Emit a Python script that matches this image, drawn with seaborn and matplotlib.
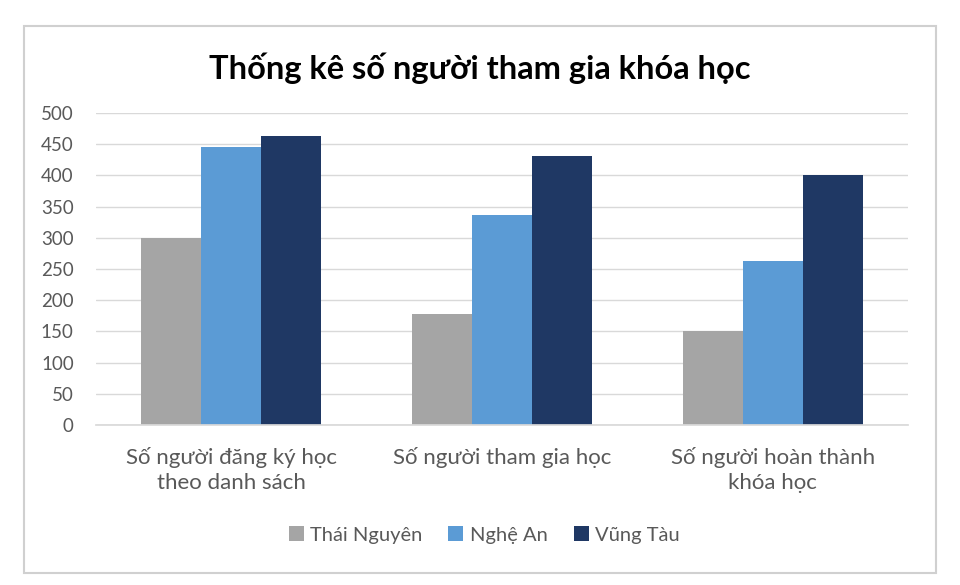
import pandas as pd
import matplotlib
matplotlib.use('Agg')
import matplotlib.pyplot as plt
import seaborn as sns
from matplotlib.patches import Rectangle

# 数据
categories = ["Số người đăng ký học\ntheo danh sách", "Số người tham gia học",
              "Số người hoàn thành\nkhóa học"]
series_names = ["Thái Nguyên", "Nghệ An", "Vũng Tàu"]
thai_nguyen = [300, 178, 150]
nghe_an = [445, 337, 263]
vung_tau = [463, 431, 400]
yticks = list(range(0, 501, 50))
colors = ["#a5a5a5", "#5b9bd5", "#1f3864"]

df = pd.DataFrame({
    "cat": categories * 3,
    "region": [s for s in series_names for _ in categories],
    "value": thai_nguyen + nghe_an + vung_tau,
})

sns.set_theme(style="white")
plt.rcParams['font.family'] = ['Lato', 'DejaVu Sans']

fig = plt.figure(figsize=(9.6, 5.85), dpi=100)
ax = fig.add_axes([96 / 960, 1 - 425 / 585, 812 / 960, 312 / 585])

sns.barplot(data=df, x="cat", y="value", hue="region", palette=colors,
            width=0.665, gap=0, saturation=1, linewidth=0, ax=ax, legend=True)

ax.set_ylim(0, 500)
ax.set_yticks(yticks)
ax.set_xlim(-0.5, 2.5)
ax.yaxis.grid(True, color="#d9d9d9", linewidth=1)
ax.set_axisbelow(True)
for s in ["top", "right", "left"]:
    ax.spines[s].set_visible(False)
ax.spines["bottom"].set_color("#d9d9d9")
ax.tick_params(axis="y", length=0, labelsize=13.5, labelcolor="#595959", pad=16)
ax.tick_params(axis="x", length=0, labelsize=16, labelcolor="#595959", pad=16)
for lbl in ax.get_xticklabels():
    lbl.set_linespacing(1.3)
ax.set_xlabel("")
ax.set_ylabel("")

leg = ax.legend(loc="center", bbox_to_anchor=(484 / 960, 1 - 535 / 585), bbox_transform=fig.transFigure,
                ncol=3, frameon=False, fontsize=14.5, handlelength=0.75, handleheight=0.75,
                handletextpad=0.3, columnspacing=1.3)
for t in leg.get_texts():
    t.set_color("#595959")

fig.text(0.5, 1 - 68 / 585, "Thống kê số người tham gia khóa học", ha="center", va="center",
         fontsize=23.5, fontweight="bold", color="black")

# 外边框
fig.patches.append(Rectangle((24 / 960, 1 - 573 / 585), 912 / 960, 547 / 585,
                             transform=fig.transFigure, fill=False, edgecolor="#d0d0d0", linewidth=1.5))

fig.savefig("out.png", dpi=100, facecolor="white")
